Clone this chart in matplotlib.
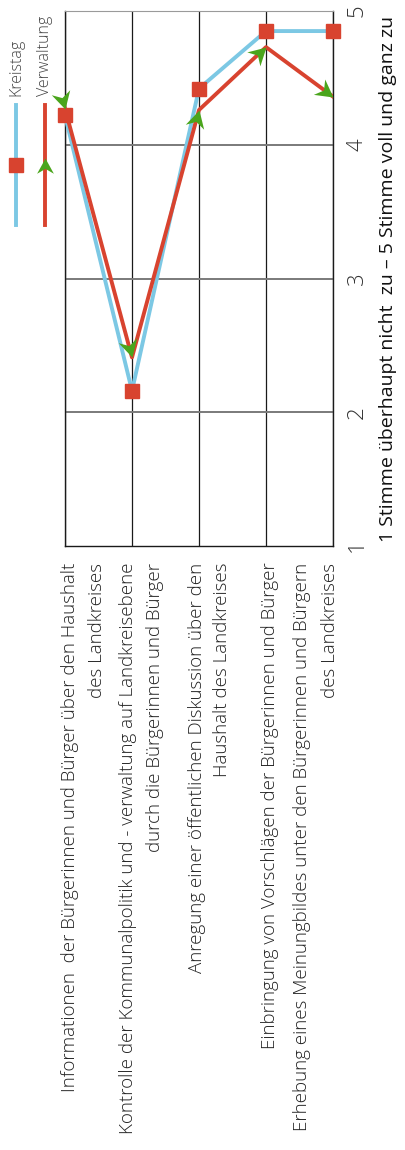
import numpy as np
import matplotlib.pyplot as plt
from matplotlib.markers import MarkerStyle
from matplotlib.path import Path
from matplotlib.transforms import Affine2D
from matplotlib.lines import Line2D

plt.rcParams['font.family'] = ['Open Sans', 'DejaVu Sans']

# Daten
kategorien = [
    "Informationen  der Bürgerinnen und Bürger über den Haushalt\ndes Landkreises",
    "Kontrolle der Kommunalpolitik und - verwaltung auf Landkreisebene\ndurch die Bürgerinnen und Bürger",
    "Anregung einer öffentlichen Diskussion über den\nHaushalt des Landkreises",
    "Einbringung von Vorschlägen der Bürgerinnen und Bürger",
    "Erhebung eines Meinungbildes unter den Bürgerinnen und Bürgern\ndes Landkreises",
]
kreistag = [4.22, 2.16, 4.42, 4.85, 4.85]
verwaltung = [4.27, 2.41, 4.26, 4.73, 4.36]
y_ticks = [1, 2, 3, 4, 5]

BLAU = '#7cc8e4'
ROT = '#d8432f'
GRUEN = '#4aa51c'

# Pfeilspitze (Spitze im Ursprung, zeigt nach +x)
pfeil = Path([(0, 0), (-1, 0.55), (-0.68, 0), (-1, -0.55), (0, 0)],
             [Path.MOVETO, Path.LINETO, Path.LINETO, Path.LINETO, Path.CLOSEPOLY])

fig = plt.figure(figsize=(4.05, 11.5), dpi=100)
ax = fig.add_axes([65 / 405, 1 - 546 / 1150, 268 / 405, 535 / 1150])

x = np.arange(len(kategorien))
ax.set_xlim(0, len(kategorien) - 1)
ax.set_ylim(1, 5)

# Gitter
for xi in x:
    ax.axvline(xi, color='#1a1a1a', lw=0.9, zorder=1)
for yv in y_ticks[1:-1]:
    ax.axhline(yv, color='#7a7a7a', lw=1.4, zorder=1)

for s in ['left', 'bottom', 'right']:
    ax.spines[s].set_color('#1a1a1a')
    ax.spines[s].set_linewidth(1.0)
ax.spines['top'].set_color('#9a9a9a')
ax.spines['top'].set_linewidth(0.8)

ax.plot(x, kreistag, color=BLAU, lw=2.8, zorder=3)
ax.plot(x, verwaltung, color=ROT, lw=2.8, zorder=4)
ax.plot(x, kreistag, ls='none', marker='s', ms=9.5, color=ROT, zorder=5,
        clip_on=False)

# Pfeile entlang der Linie
pts = ax.transData.transform(np.column_stack([x, verwaltung]))
for i in range(len(x)):
    if i == 0:
        d = pts[1] - pts[0]
    else:
        d = pts[i] - pts[i - 1]
    ang = np.degrees(np.arctan2(d[1], d[0]))
    m = MarkerStyle(pfeil, transform=Affine2D().rotate_deg(ang))
    ax.plot(x[i], verwaltung[i], ls='none', marker=m, ms=25, color=GRUEN,
            markeredgewidth=0, zorder=6, clip_on=False)

# Achsen
ax.set_xticks([])
ax.yaxis.tick_right()
ax.set_yticks(y_ticks)
ax.set_yticklabels([str(v) for v in y_ticks], rotation=90, fontsize=16,
                   fontweight='light', color='#333333', va='center')
ax.tick_params(axis='y', length=0, pad=10)
ax.yaxis.set_label_position('right')
ax.set_ylabel('1 Stimme überhaupt nicht  zu – 5 Stimme voll und ganz zu',
              rotation=90, fontsize=14, color='#111111', labelpad=8)

# Kategorienbeschriftung
versatz = [(5, 32), (-4, 23), (-2, 23), (4,), (-31, -3)]
for i, text in enumerate(kategorien):
    for zeile, dx in zip(text.split('\n'), versatz[i]):
        ax.annotate(zeile, xy=(x[i], 0), xycoords=('data', 'axes fraction'),
                    xytext=(dx * 0.72, -12), textcoords='offset points',
                    rotation=90, ha='center', va='top', fontsize=13.5,
                    fontweight='light', color='#222222')

# Legende
fig.add_artist(Line2D([16 / 405, 16 / 405], [1 - 105 / 1150, 1 - 225 / 1150],
                      color=BLAU, lw=2.8, transform=fig.transFigure))
fig.add_artist(Line2D([16 / 405], [1 - 165 / 1150], ls='none', marker='s',
                      ms=9.5, color=ROT, transform=fig.transFigure))
fig.add_artist(Line2D([45 / 405, 45 / 405], [1 - 105 / 1150, 1 - 225 / 1150],
                      color=ROT, lw=2.8, transform=fig.transFigure))
fig.add_artist(Line2D([45 / 405], [1 - 158 / 1150], ls='none',
                      marker=MarkerStyle(pfeil, transform=Affine2D().rotate_deg(90)),
                      ms=22, color=GRUEN, markeredgewidth=0, transform=fig.transFigure))
fig.text(16 / 405, 1 - 96 / 1150, 'Kreistag', rotation=90, ha='center', va='bottom',
         fontsize=11.5, fontweight='light', color='#444444')
fig.text(45 / 405, 1 - 96 / 1150, 'Verwaltung', rotation=90, ha='center', va='bottom',
         fontsize=11.5, fontweight='light', color='#444444')

fig.savefig('out.png', dpi=100)
